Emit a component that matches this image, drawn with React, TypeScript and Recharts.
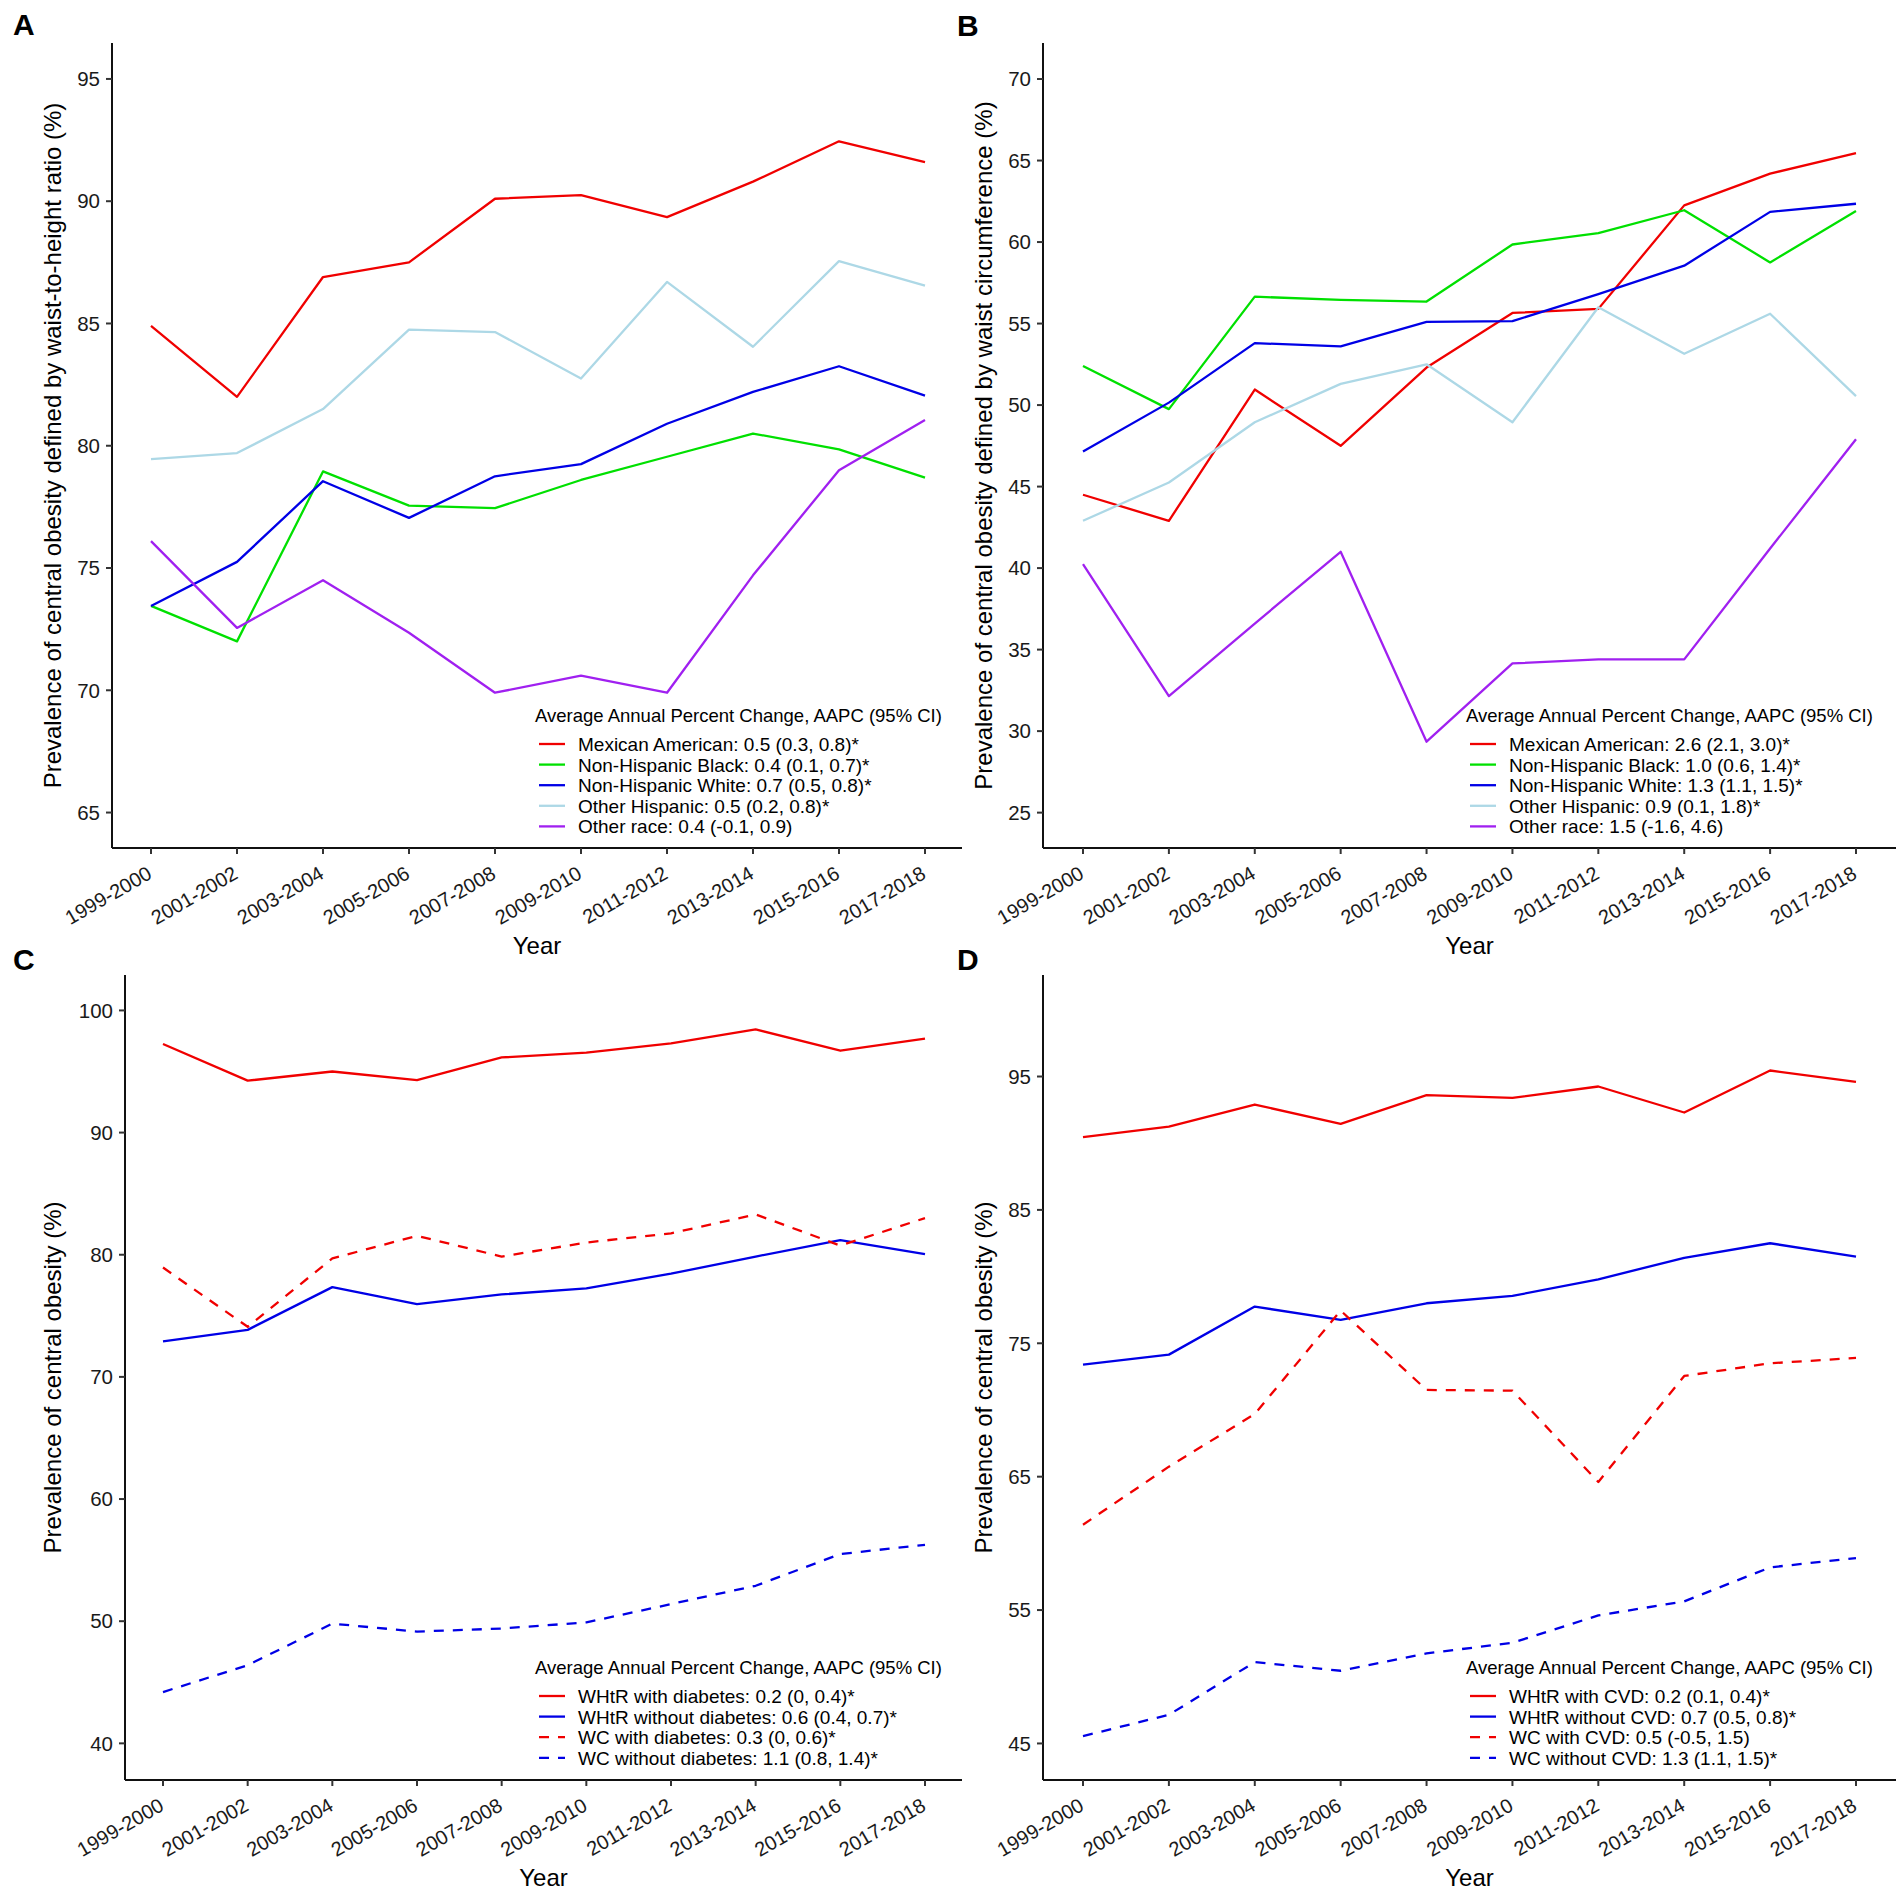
import React from 'react';
import { LineChart, Line, XAxis, YAxis, Legend } from 'recharts';

const FONT = '"Liberation Sans", Arial, Helvetica, sans-serif';

// ---------- categories ----------
const periods = ['1999-2000', '2001-2002', '2003-2004', '2005-2006', '2007-2008', '2009-2010', '2011-2012', '2013-2014', '2015-2016', '2017-2018'];

// ---------- Panel A: WHtR by race ----------
const aMexicanAmerican = [84.9, 82.0, 86.9, 87.5, 90.1, 90.25, 89.35, 90.8, 92.45, 91.6];
const aNonHispanicBlack = [73.45, 72.0, 78.95, 77.55, 77.45, 78.6, 79.55, 80.5, 79.85, 78.7];
const aNonHispanicWhite = [73.45, 75.25, 78.55, 77.05, 78.75, 79.25, 80.9, 82.2, 83.25, 82.05];
const aOtherHispanic = [79.45, 79.7, 81.5, 84.75, 84.65, 82.75, 86.7, 84.05, 87.55, 86.55];
const aOtherRace = [76.1, 72.55, 74.5, 72.35, 69.9, 70.6, 69.9, 74.7, 79.0, 81.05];
const aLegend = [
  'Mexican American: 0.5 (0.3, 0.8)*',
  'Non-Hispanic Black: 0.4 (0.1, 0.7)*',
  'Non-Hispanic White: 0.7 (0.5, 0.8)*',
  'Other Hispanic: 0.5 (0.2, 0.8)*',
  'Other race: 0.4 (-0.1, 0.9)',
];
const aTicks = [65, 70, 75, 80, 85, 90, 95];

// ---------- Panel B: WC by race ----------
const bMexicanAmerican = [44.5, 42.9, 50.95, 47.5, 52.3, 55.65, 55.9, 62.25, 64.2, 65.45];
const bNonHispanicBlack = [52.4, 49.75, 56.65, 56.45, 56.35, 59.85, 60.55, 61.95, 58.75, 61.9];
const bNonHispanicWhite = [47.15, 50.15, 53.8, 53.6, 55.1, 55.15, 56.8, 58.55, 61.85, 62.35];
const bOtherHispanic = [42.9, 45.25, 48.95, 51.3, 52.5, 48.95, 56.0, 53.15, 55.6, 50.55];
const bOtherRace = [40.25, 32.15, 36.6, 41.0, 29.35, 34.15, 34.4, 34.4, 41.2, 47.9];
const bLegend = [
  'Mexican American: 2.6 (2.1, 3.0)*',
  'Non-Hispanic Black: 1.0 (0.6, 1.4)*',
  'Non-Hispanic White: 1.3 (1.1, 1.5)*',
  'Other Hispanic: 0.9 (0.1, 1.8)*',
  'Other race: 1.5 (-1.6, 4.6)',
];
const bTicks = [25, 30, 35, 40, 45, 50, 55, 60, 65, 70];

// ---------- Panel C: diabetes ----------
const cWhtrWith = [97.25, 94.25, 95.0, 94.3, 96.15, 96.55, 97.3, 98.45, 96.7, 97.7];
const cWhtrWithout = [72.9, 73.85, 77.35, 75.95, 76.75, 77.25, 78.45, 79.85, 81.2, 80.05];
const cWcWith = [78.95, 74.1, 79.7, 81.55, 79.85, 81.0, 81.75, 83.3, 80.75, 83.0];
const cWcWithout = [44.2, 46.4, 49.8, 49.15, 49.4, 49.9, 51.4, 52.9, 55.5, 56.25];
const cLegend = [
  'WHtR with diabetes: 0.2 (0, 0.4)*',
  'WHtR without diabetes: 0.6 (0.4, 0.7)*',
  'WC with diabetes: 0.3 (0, 0.6)*',
  'WC without diabetes: 1.1 (0.8, 1.4)*',
];
const cTicks = [40, 50, 60, 70, 80, 90, 100];

// ---------- Panel D: CVD ----------
const dWhtrWith = [90.45, 91.25, 92.9, 91.45, 93.6, 93.4, 94.25, 92.3, 95.45, 94.6];
const dWhtrWithout = [73.4, 74.15, 77.75, 76.75, 78.0, 78.55, 79.8, 81.4, 82.5, 81.5];
const dWcWith = [61.4, 65.75, 69.7, 77.45, 71.5, 71.45, 64.6, 72.55, 73.5, 73.9];
const dWcWithout = [45.55, 47.15, 51.1, 50.45, 51.75, 52.55, 54.6, 55.65, 58.2, 58.9];
const dLegend = [
  'WHtR with CVD: 0.2 (0.1, 0.4)*',
  'WHtR without CVD: 0.7 (0.5, 0.8)*',
  'WC with CVD: 0.5 (-0.5, 1.5)',
  'WC without CVD: 1.3 (1.1, 1.5)*',
];
const dTicks = [45, 55, 65, 75, 85, 95];

const legendTitle = 'Average Annual Percent Change, AAPC (95% CI)';

const RED = '#F00000';
const GREEN = '#00E000';
const BLUE = '#0000E6';
const LIGHTBLUE = '#ADD8E6';
const PURPLE = '#A020F0';
const DASH = '10 9';

type Series = { key: string; name: string; color: string; dash?: string; values: number[] };

const buildData = (series: Series[]) =>
  periods.map((p, i) => {
    const row: Record<string, any> = { period: p };
    series.forEach((s) => {
      row[s.key] = s.values[i];
    });
    return row;
  });

const raceSeries = (vals: number[][], labels: string[]): Series[] => [
  { key: 'mex', name: labels[0], color: RED, values: vals[0] },
  { key: 'nhb', name: labels[1], color: GREEN, values: vals[1] },
  { key: 'nhw', name: labels[2], color: BLUE, values: vals[2] },
  { key: 'oh', name: labels[3], color: LIGHTBLUE, values: vals[3] },
  { key: 'or', name: labels[4], color: PURPLE, values: vals[4] },
];

const condSeries = (vals: number[][], labels: string[]): Series[] => [
  { key: 'whtrWith', name: labels[0], color: RED, values: vals[0] },
  { key: 'whtrWithout', name: labels[1], color: BLUE, values: vals[1] },
  { key: 'wcWith', name: labels[2], color: RED, dash: DASH, values: vals[2] },
  { key: 'wcWithout', name: labels[3], color: BLUE, dash: DASH, values: vals[3] },
];

const seriesA = raceSeries([aMexicanAmerican, aNonHispanicBlack, aNonHispanicWhite, aOtherHispanic, aOtherRace], aLegend);
const seriesB = raceSeries([bMexicanAmerican, bNonHispanicBlack, bNonHispanicWhite, bOtherHispanic, bOtherRace], bLegend);
const seriesC = condSeries([cWhtrWith, cWhtrWithout, cWcWith, cWcWithout], cLegend);
const seriesD = condSeries([dWhtrWith, dWhtrWithout, dWcWith, dWcWithout], dLegend);

const XTick = (props: any) => {
  const { x, y, payload } = props;
  const ax = x - 5;
  const ay = y + 3;
  return (
    <text
      x={ax}
      y={ay}
      transform={`rotate(-30 ${ax} ${ay})`}
      textAnchor="end"
      dy="0.72em"
      fontSize={20}
      fontFamily={FONT}
      fill="#1a1a1a"
    >
      {payload.value}
    </text>
  );
};

type PanelProps = {
  left: number;
  top: number;
  width: number;
  yAxisWidth: number;
  domain: [number, number];
  ticks: number[];
  padding: { left: number; right: number };
  series: Series[];
  yTitle: string;
  yTitleX: number;
  legendLeft: number;
  legendTop: number;
};

const PLOT_TOP = 43;
const PLOT_H = 805;
const CHART_H = 960;
const XAXIS_H = CHART_H - PLOT_TOP - PLOT_H;

const Panel = (p: PanelProps) => {
  const data = buildData(p.series);
  const yCenter = PLOT_TOP + PLOT_H / 2;
  const xCenter = p.yAxisWidth + (p.width - p.yAxisWidth) / 2;

  const renderLegend = (lp: any) => {
    const payload: any[] = (lp && lp.payload) || [];
    return (
      <svg width={440} height={150} style={{ display: 'block', overflow: 'visible' }}>
        <text x={0} y={22} fontSize={18.5} fontFamily={FONT} fill="#000">
          {legendTitle}
        </text>
        {p.series.map((s, i) => {
          const entry = payload.find((e) => e && e.dataKey === s.key);
          const color = entry && entry.color ? entry.color : s.color;
          const label = entry && entry.value ? entry.value : s.name;
          const by = 51 + i * 20.6;
          return (
            <g key={s.key}>
              <line x1={4} x2={30} y1={by - 7} y2={by - 7} stroke={color} strokeWidth={2.3} strokeDasharray={s.dash} />
              <text x={43} y={by} fontSize={19} fontFamily={FONT} fill="#000">
                {label}
              </text>
            </g>
          );
        })}
      </svg>
    );
  };

  return (
    <div style={{ position: 'absolute', left: p.left, top: p.top, width: p.width, height: CHART_H }}>
      <LineChart width={p.width} height={CHART_H} data={data} margin={{ top: PLOT_TOP, right: 0, bottom: 0, left: 0 }}>
        <XAxis
          dataKey="period"
          type="category"
          interval={0}
          padding={p.padding}
          height={XAXIS_H}
          tickSize={6}
          tickMargin={8}
          tick={<XTick />}
          axisLine={{ stroke: '#111', strokeWidth: 2 }}
          tickLine={{ stroke: '#333', strokeWidth: 2 }}
          label={() => (
            <text x={xCenter} y={954} textAnchor="middle" fontSize={24} fontFamily={FONT} fill="#000">
              Year
            </text>
          )}
        />
        <YAxis
          type="number"
          domain={p.domain}
          ticks={p.ticks}
          allowDataOverflow
          interval={0}
          width={p.yAxisWidth}
          tickSize={6}
          tickMargin={6}
          tick={{ fontSize: 20.5, fontFamily: FONT, fill: '#1a1a1a' }}
          axisLine={{ stroke: '#111', strokeWidth: 2 }}
          tickLine={{ stroke: '#333', strokeWidth: 2 }}
          label={() => (
            <text
              x={p.yTitleX}
              y={yCenter}
              transform={`rotate(-90 ${p.yTitleX} ${yCenter})`}
              textAnchor="middle"
              dominantBaseline="central"
              fontSize={24}
              fontFamily={FONT}
              fill="#000"
            >
              {p.yTitle}
            </text>
          )}
        />
        {p.series.map((s) => (
          <Line
            key={s.key}
            dataKey={s.key}
            name={s.name}
            type="linear"
            stroke={s.color}
            strokeWidth={2.3}
            strokeDasharray={s.dash}
            strokeLinejoin="round"
            dot={false}
            activeDot={false}
            isAnimationActive={false}
          />
        ))}
        <Legend
          layout="vertical"
          align="center"
          verticalAlign="middle"
          content={renderLegend}
          wrapperStyle={{ left: p.legendLeft, top: p.legendTop, width: 440, height: 150 }}
        />
      </LineChart>
    </div>
  );
};

export default function App() {
  return (
    <div style={{ position: 'absolute', left: 0, top: 0, width: 1904, height: 1892, background: '#fff', fontFamily: FONT, overflow: 'hidden' }}>
      <Panel
        left={0}
        top={0}
        width={962}
        yAxisWidth={112}
        domain={[63.55, 96.47]}
        ticks={aTicks}
        padding={{ left: 39, right: 37 }}
        series={seriesA}
        yTitle="Prevalence of central obesity defined by waist-to-height ratio (%)"
        yTitleX={52}
        legendLeft={535}
        legendTop={700}
      />
      <Panel
        left={944}
        top={0}
        width={952}
        yAxisWidth={99}
        domain={[22.83, 72.21]}
        ticks={bTicks}
        padding={{ left: 40, right: 40 }}
        series={seriesB}
        yTitle="Prevalence of central obesity defined by waist circumference (%)"
        yTitleX={39}
        legendLeft={522}
        legendTop={700}
      />
      <Panel
        left={0}
        top={932}
        width={962}
        yAxisWidth={125}
        domain={[37.0, 102.9]}
        ticks={cTicks}
        padding={{ left: 38, right: 37 }}
        series={seriesC}
        yTitle="Prevalence of central obesity (%)"
        yTitleX={52}
        legendLeft={535}
        legendTop={720}
      />
      <Panel
        left={944}
        top={932}
        width={952}
        yAxisWidth={99}
        domain={[42.26, 102.61]}
        ticks={dTicks}
        padding={{ left: 40, right: 40 }}
        series={seriesD}
        yTitle="Prevalence of central obesity (%)"
        yTitleX={39}
        legendLeft={522}
        legendTop={720}
      />
      <svg width={1904} height={1892} style={{ position: 'absolute', left: 0, top: 0, pointerEvents: 'none' }}>
        <text x={13} y={35} fontSize={30} fontWeight="bold" fontFamily={FONT} fill="#000">A</text>
        <text x={957} y={36} fontSize={30} fontWeight="bold" fontFamily={FONT} fill="#000">B</text>
        <text x={13} y={970} fontSize={30} fontWeight="bold" fontFamily={FONT} fill="#000">C</text>
        <text x={957} y={970} fontSize={30} fontWeight="bold" fontFamily={FONT} fill="#000">D</text>
      </svg>
    </div>
  );
}
